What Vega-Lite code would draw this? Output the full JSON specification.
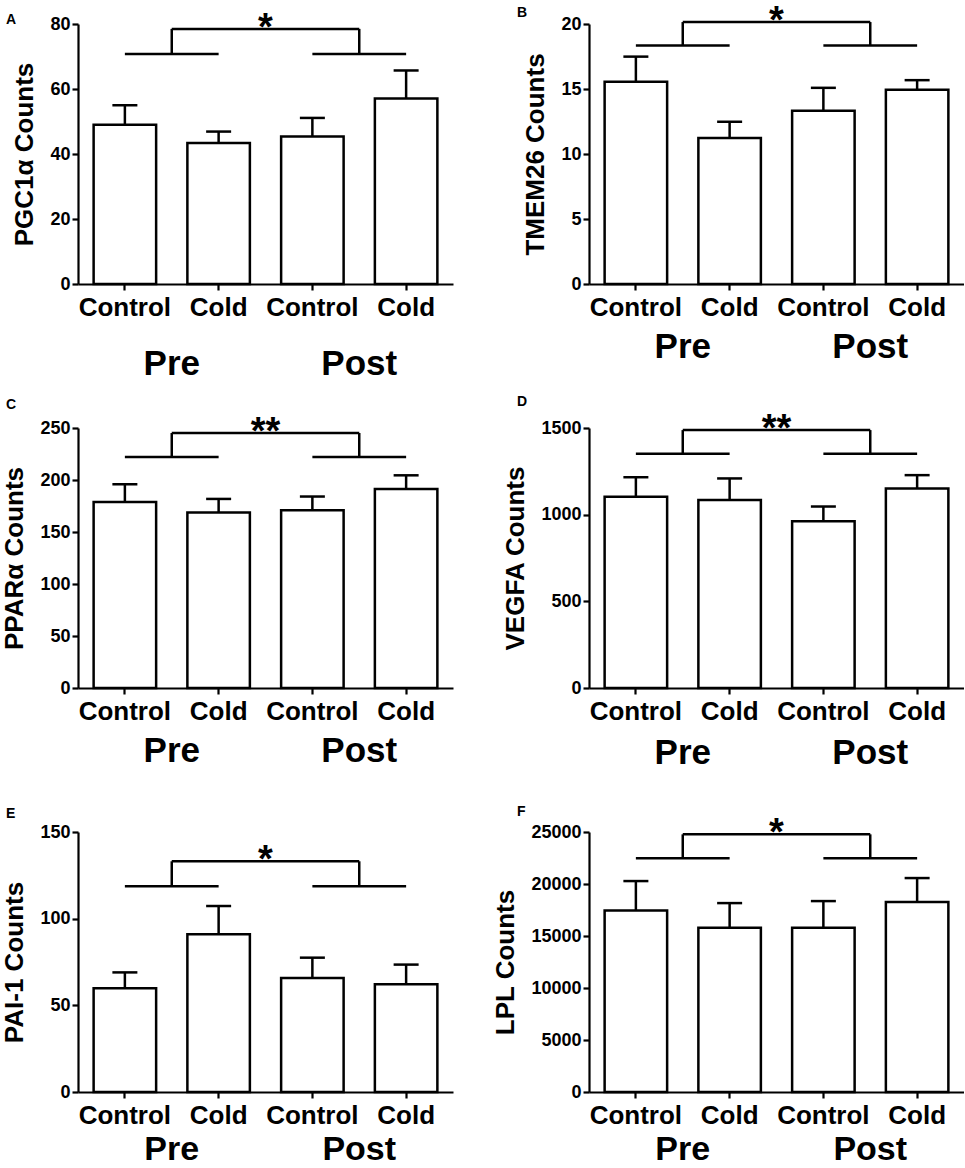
{
  "$schema": "https://vega.github.io/schema/vega-lite/v6.json",
  "background": "white",
  "padding": {"left": 1, "top": 3, "right": 0, "bottom": 0},
  "datasets": {
    "bars": [
      {"panel": "A", "bar": "Control Pre", "mean": 49.0, "upper": 55.0},
      {"panel": "A", "bar": "Cold Pre", "mean": 43.4, "upper": 46.9},
      {"panel": "A", "bar": "Control Post", "mean": 45.4, "upper": 51.1},
      {"panel": "A", "bar": "Cold Post", "mean": 57.1, "upper": 65.7},
      {"panel": "B", "bar": "Control Pre", "mean": 15.55, "upper": 17.49},
      {"panel": "B", "bar": "Cold Pre", "mean": 11.23, "upper": 12.48},
      {"panel": "B", "bar": "Control Post", "mean": 13.32, "upper": 15.09},
      {"panel": "B", "bar": "Cold Post", "mean": 14.94, "upper": 15.68},
      {"panel": "C", "bar": "Control Pre", "mean": 178.9, "upper": 195.9},
      {"panel": "C", "bar": "Cold Pre", "mean": 168.7, "upper": 181.8},
      {"panel": "C", "bar": "Control Post", "mean": 170.9, "upper": 184.1},
      {"panel": "C", "bar": "Cold Post", "mean": 191.4, "upper": 204.5},
      {"panel": "D", "bar": "Control Pre", "mean": 1103, "upper": 1216},
      {"panel": "D", "bar": "Cold Pre", "mean": 1085, "upper": 1209},
      {"panel": "D", "bar": "Control Post", "mean": 962, "upper": 1047},
      {"panel": "D", "bar": "Cold Post", "mean": 1151, "upper": 1228},
      {"panel": "E", "bar": "Control Pre", "mean": 59.8, "upper": 69.0},
      {"panel": "E", "bar": "Cold Pre", "mean": 91.0, "upper": 107.3},
      {"panel": "E", "bar": "Control Post", "mean": 65.8, "upper": 77.5},
      {"panel": "E", "bar": "Cold Post", "mean": 62.1, "upper": 73.5},
      {"panel": "F", "bar": "Control Pre", "mean": 17458, "upper": 20282},
      {"panel": "F", "bar": "Cold Pre", "mean": 15789, "upper": 18164},
      {"panel": "F", "bar": "Control Post", "mean": 15789, "upper": 18357},
      {"panel": "F", "bar": "Cold Post", "mean": 18261, "upper": 20571}
    ],
    "sig": [
      {"panel": "A", "low": 70.8, "high": 78.5, "stars": "*"},
      {"panel": "B", "low": 18.34, "high": 20.15, "stars": "*"},
      {"panel": "C", "low": 222.2, "high": 245.2, "stars": "**"},
      {"panel": "D", "low": 1351, "high": 1488, "stars": "**"},
      {"panel": "E", "low": 118.7, "high": 133.1, "stars": "*"},
      {"panel": "F", "low": 22465, "high": 24775, "stars": "*"}
    ]
  },
  "columns": 2,
  "bounds": "flush",
  "spacing": {"row": 144, "column": 136},
  "concat": [
    {
      "width": 375, "height": 260, "title": {"text": "A", "dy": 19},
      "layer": [
        {
          "data": {"name": "bars"},
          "transform": [{"filter": "datum.panel == 'A'"}],
          "layer": [
            {"mark": "bar", "encoding": {
              "x": {"field": "bar", "type": "nominal", "sort": null, "scale": {"domain": ["Control Pre", "Cold Pre", "Control Post", "Cold Post"], "paddingInner": 0.3333, "paddingOuter": 0.1667}, "axis": {"title": null, "labelExpr": "split(datum.label, ' ')[0]"}},
              "y": {"field": "mean", "type": "quantitative", "scale": {"domain": [0, 80], "nice": false}, "axis": {"title": "PGC1α Counts", "values": [0, 20, 40, 60, 80]}}}},
            {"mark": "rule", "encoding": {"x": {"field": "bar", "type": "nominal"}, "y": {"field": "mean", "type": "quantitative"}, "y2": {"field": "upper"}}},
            {"mark": "rule", "encoding": {"x": {"field": "bar", "type": "nominal", "bandPosition": 0.3}, "x2": {"field": "bar", "bandPosition": 0.7}, "y": {"field": "upper", "type": "quantitative"}}}
          ]
        },
        {
          "data": {"name": "sig"},
          "transform": [{"filter": "datum.panel == 'A'"}],
          "layer": [
            {"mark": "rule", "encoding": {"x": {"datum": "Control Pre", "type": "nominal", "bandPosition": 0.5}, "x2": {"datum": "Cold Pre", "bandPosition": 0.5}, "y": {"field": "low", "type": "quantitative"}}},
            {"mark": "rule", "encoding": {"x": {"datum": "Control Post", "type": "nominal", "bandPosition": 0.5}, "x2": {"datum": "Cold Post", "bandPosition": 0.5}, "y": {"field": "low", "type": "quantitative"}}},
            {"mark": "rule", "encoding": {"x": {"datum": "Control Pre", "type": "nominal", "bandPosition": 1.25}, "x2": {"datum": "Control Post", "bandPosition": 1.25}, "y": {"field": "high", "type": "quantitative"}}},
            {"mark": "rule", "encoding": {"x": {"datum": "Control Pre", "type": "nominal", "bandPosition": 1.25}, "y": {"field": "low", "type": "quantitative"}, "y2": {"field": "high"}}},
            {"mark": "rule", "encoding": {"x": {"datum": "Control Post", "type": "nominal", "bandPosition": 1.25}, "y": {"field": "low", "type": "quantitative"}, "y2": {"field": "high"}}},
            {"mark": {"type": "text", "fontSize": 38, "baseline": "middle"}, "encoding": {"x": {"datum": "Cold Pre", "type": "nominal", "bandPosition": 1.25}, "y": {"field": "high", "type": "quantitative"}, "text": {"field": "stars"}}},
            {"mark": {"type": "text", "fontSize": 35, "baseline": "top", "dy": 63}, "encoding": {"x": {"datum": "Control Pre", "type": "nominal", "bandPosition": 1.25}, "y": {"datum": 0, "type": "quantitative"}, "text": {"value": "Pre"}}},
            {"mark": {"type": "text", "fontSize": 35, "baseline": "top", "dy": 63}, "encoding": {"x": {"datum": "Control Post", "type": "nominal", "bandPosition": 1.25}, "y": {"datum": 0, "type": "quantitative"}, "text": {"value": "Post"}}}
          ]
        }
      ]
    },
    {
      "width": 375, "height": 260, "title": {"text": "B", "dy": 19},
      "layer": [
        {
          "data": {"name": "bars"},
          "transform": [{"filter": "datum.panel == 'B'"}],
          "layer": [
            {"mark": "bar", "encoding": {
              "x": {"field": "bar", "type": "nominal", "sort": null, "scale": {"domain": ["Control Pre", "Cold Pre", "Control Post", "Cold Post"], "paddingInner": 0.3333, "paddingOuter": 0.1667}, "axis": {"title": null, "labelExpr": "split(datum.label, ' ')[0]"}},
              "y": {"field": "mean", "type": "quantitative", "scale": {"domain": [0, 20], "nice": false}, "axis": {"title": "TMEM26 Counts", "values": [0, 5, 10, 15, 20]}}}},
            {"mark": "rule", "encoding": {"x": {"field": "bar", "type": "nominal"}, "y": {"field": "mean", "type": "quantitative"}, "y2": {"field": "upper"}}},
            {"mark": "rule", "encoding": {"x": {"field": "bar", "type": "nominal", "bandPosition": 0.3}, "x2": {"field": "bar", "bandPosition": 0.7}, "y": {"field": "upper", "type": "quantitative"}}}
          ]
        },
        {
          "data": {"name": "sig"},
          "transform": [{"filter": "datum.panel == 'B'"}],
          "layer": [
            {"mark": "rule", "encoding": {"x": {"datum": "Control Pre", "type": "nominal", "bandPosition": 0.5}, "x2": {"datum": "Cold Pre", "bandPosition": 0.5}, "y": {"field": "low", "type": "quantitative"}}},
            {"mark": "rule", "encoding": {"x": {"datum": "Control Post", "type": "nominal", "bandPosition": 0.5}, "x2": {"datum": "Cold Post", "bandPosition": 0.5}, "y": {"field": "low", "type": "quantitative"}}},
            {"mark": "rule", "encoding": {"x": {"datum": "Control Pre", "type": "nominal", "bandPosition": 1.25}, "x2": {"datum": "Control Post", "bandPosition": 1.25}, "y": {"field": "high", "type": "quantitative"}}},
            {"mark": "rule", "encoding": {"x": {"datum": "Control Pre", "type": "nominal", "bandPosition": 1.25}, "y": {"field": "low", "type": "quantitative"}, "y2": {"field": "high"}}},
            {"mark": "rule", "encoding": {"x": {"datum": "Control Post", "type": "nominal", "bandPosition": 1.25}, "y": {"field": "low", "type": "quantitative"}, "y2": {"field": "high"}}},
            {"mark": {"type": "text", "fontSize": 38, "baseline": "middle"}, "encoding": {"x": {"datum": "Cold Pre", "type": "nominal", "bandPosition": 1.25}, "y": {"field": "high", "type": "quantitative"}, "text": {"field": "stars"}}},
            {"mark": {"type": "text", "fontSize": 35, "baseline": "top", "dy": 46}, "encoding": {"x": {"datum": "Control Pre", "type": "nominal", "bandPosition": 1.25}, "y": {"datum": 0, "type": "quantitative"}, "text": {"value": "Pre"}}},
            {"mark": {"type": "text", "fontSize": 35, "baseline": "top", "dy": 46}, "encoding": {"x": {"datum": "Control Post", "type": "nominal", "bandPosition": 1.25}, "y": {"datum": 0, "type": "quantitative"}, "text": {"value": "Post"}}}
          ]
        }
      ]
    },
    {
      "width": 375, "height": 260, "title": "C",
      "layer": [
        {
          "data": {"name": "bars"},
          "transform": [{"filter": "datum.panel == 'C'"}],
          "layer": [
            {"mark": "bar", "encoding": {
              "x": {"field": "bar", "type": "nominal", "sort": null, "scale": {"domain": ["Control Pre", "Cold Pre", "Control Post", "Cold Post"], "paddingInner": 0.3333, "paddingOuter": 0.1667}, "axis": {"title": null, "labelExpr": "split(datum.label, ' ')[0]"}},
              "y": {"field": "mean", "type": "quantitative", "scale": {"domain": [0, 250], "nice": false}, "axis": {"title": "PPARα Counts", "values": [0, 50, 100, 150, 200, 250]}}}},
            {"mark": "rule", "encoding": {"x": {"field": "bar", "type": "nominal"}, "y": {"field": "mean", "type": "quantitative"}, "y2": {"field": "upper"}}},
            {"mark": "rule", "encoding": {"x": {"field": "bar", "type": "nominal", "bandPosition": 0.3}, "x2": {"field": "bar", "bandPosition": 0.7}, "y": {"field": "upper", "type": "quantitative"}}}
          ]
        },
        {
          "data": {"name": "sig"},
          "transform": [{"filter": "datum.panel == 'C'"}],
          "layer": [
            {"mark": "rule", "encoding": {"x": {"datum": "Control Pre", "type": "nominal", "bandPosition": 0.5}, "x2": {"datum": "Cold Pre", "bandPosition": 0.5}, "y": {"field": "low", "type": "quantitative"}}},
            {"mark": "rule", "encoding": {"x": {"datum": "Control Post", "type": "nominal", "bandPosition": 0.5}, "x2": {"datum": "Cold Post", "bandPosition": 0.5}, "y": {"field": "low", "type": "quantitative"}}},
            {"mark": "rule", "encoding": {"x": {"datum": "Control Pre", "type": "nominal", "bandPosition": 1.25}, "x2": {"datum": "Control Post", "bandPosition": 1.25}, "y": {"field": "high", "type": "quantitative"}}},
            {"mark": "rule", "encoding": {"x": {"datum": "Control Pre", "type": "nominal", "bandPosition": 1.25}, "y": {"field": "low", "type": "quantitative"}, "y2": {"field": "high"}}},
            {"mark": "rule", "encoding": {"x": {"datum": "Control Post", "type": "nominal", "bandPosition": 1.25}, "y": {"field": "low", "type": "quantitative"}, "y2": {"field": "high"}}},
            {"mark": {"type": "text", "fontSize": 38, "baseline": "middle"}, "encoding": {"x": {"datum": "Cold Pre", "type": "nominal", "bandPosition": 1.25}, "y": {"field": "high", "type": "quantitative"}, "text": {"field": "stars"}}},
            {"mark": {"type": "text", "fontSize": 35, "baseline": "top", "dy": 46}, "encoding": {"x": {"datum": "Control Pre", "type": "nominal", "bandPosition": 1.25}, "y": {"datum": 0, "type": "quantitative"}, "text": {"value": "Pre"}}},
            {"mark": {"type": "text", "fontSize": 35, "baseline": "top", "dy": 46}, "encoding": {"x": {"datum": "Control Post", "type": "nominal", "bandPosition": 1.25}, "y": {"datum": 0, "type": "quantitative"}, "text": {"value": "Post"}}}
          ]
        }
      ]
    },
    {
      "width": 375, "height": 260, "title": "D",
      "layer": [
        {
          "data": {"name": "bars"},
          "transform": [{"filter": "datum.panel == 'D'"}],
          "layer": [
            {"mark": "bar", "encoding": {
              "x": {"field": "bar", "type": "nominal", "sort": null, "scale": {"domain": ["Control Pre", "Cold Pre", "Control Post", "Cold Post"], "paddingInner": 0.3333, "paddingOuter": 0.1667}, "axis": {"title": null, "labelExpr": "split(datum.label, ' ')[0]"}},
              "y": {"field": "mean", "type": "quantitative", "scale": {"domain": [0, 1500], "nice": false}, "axis": {"title": "VEGFA  Counts", "format": "d", "values": [0, 500, 1000, 1500]}}}},
            {"mark": "rule", "encoding": {"x": {"field": "bar", "type": "nominal"}, "y": {"field": "mean", "type": "quantitative"}, "y2": {"field": "upper"}}},
            {"mark": "rule", "encoding": {"x": {"field": "bar", "type": "nominal", "bandPosition": 0.3}, "x2": {"field": "bar", "bandPosition": 0.7}, "y": {"field": "upper", "type": "quantitative"}}}
          ]
        },
        {
          "data": {"name": "sig"},
          "transform": [{"filter": "datum.panel == 'D'"}],
          "layer": [
            {"mark": "rule", "encoding": {"x": {"datum": "Control Pre", "type": "nominal", "bandPosition": 0.5}, "x2": {"datum": "Cold Pre", "bandPosition": 0.5}, "y": {"field": "low", "type": "quantitative"}}},
            {"mark": "rule", "encoding": {"x": {"datum": "Control Post", "type": "nominal", "bandPosition": 0.5}, "x2": {"datum": "Cold Post", "bandPosition": 0.5}, "y": {"field": "low", "type": "quantitative"}}},
            {"mark": "rule", "encoding": {"x": {"datum": "Control Pre", "type": "nominal", "bandPosition": 1.25}, "x2": {"datum": "Control Post", "bandPosition": 1.25}, "y": {"field": "high", "type": "quantitative"}}},
            {"mark": "rule", "encoding": {"x": {"datum": "Control Pre", "type": "nominal", "bandPosition": 1.25}, "y": {"field": "low", "type": "quantitative"}, "y2": {"field": "high"}}},
            {"mark": "rule", "encoding": {"x": {"datum": "Control Post", "type": "nominal", "bandPosition": 1.25}, "y": {"field": "low", "type": "quantitative"}, "y2": {"field": "high"}}},
            {"mark": {"type": "text", "fontSize": 38, "baseline": "middle"}, "encoding": {"x": {"datum": "Cold Pre", "type": "nominal", "bandPosition": 1.25}, "y": {"field": "high", "type": "quantitative"}, "text": {"field": "stars"}}},
            {"mark": {"type": "text", "fontSize": 35, "baseline": "top", "dy": 48}, "encoding": {"x": {"datum": "Control Pre", "type": "nominal", "bandPosition": 1.25}, "y": {"datum": 0, "type": "quantitative"}, "text": {"value": "Pre"}}},
            {"mark": {"type": "text", "fontSize": 35, "baseline": "top", "dy": 48}, "encoding": {"x": {"datum": "Control Post", "type": "nominal", "bandPosition": 1.25}, "y": {"datum": 0, "type": "quantitative"}, "text": {"value": "Post"}}}
          ]
        }
      ]
    },
    {
      "width": 375, "height": 260, "title": "E",
      "layer": [
        {
          "data": {"name": "bars"},
          "transform": [{"filter": "datum.panel == 'E'"}],
          "layer": [
            {"mark": "bar", "encoding": {
              "x": {"field": "bar", "type": "nominal", "sort": null, "scale": {"domain": ["Control Pre", "Cold Pre", "Control Post", "Cold Post"], "paddingInner": 0.3333, "paddingOuter": 0.1667}, "axis": {"title": null, "labelExpr": "split(datum.label, ' ')[0]"}},
              "y": {"field": "mean", "type": "quantitative", "scale": {"domain": [0, 150], "nice": false}, "axis": {"title": "PAI-1 Counts", "values": [0, 50, 100, 150]}}}},
            {"mark": "rule", "encoding": {"x": {"field": "bar", "type": "nominal"}, "y": {"field": "mean", "type": "quantitative"}, "y2": {"field": "upper"}}},
            {"mark": "rule", "encoding": {"x": {"field": "bar", "type": "nominal", "bandPosition": 0.3}, "x2": {"field": "bar", "bandPosition": 0.7}, "y": {"field": "upper", "type": "quantitative"}}}
          ]
        },
        {
          "data": {"name": "sig"},
          "transform": [{"filter": "datum.panel == 'E'"}],
          "layer": [
            {"mark": "rule", "encoding": {"x": {"datum": "Control Pre", "type": "nominal", "bandPosition": 0.5}, "x2": {"datum": "Cold Pre", "bandPosition": 0.5}, "y": {"field": "low", "type": "quantitative"}}},
            {"mark": "rule", "encoding": {"x": {"datum": "Control Post", "type": "nominal", "bandPosition": 0.5}, "x2": {"datum": "Cold Post", "bandPosition": 0.5}, "y": {"field": "low", "type": "quantitative"}}},
            {"mark": "rule", "encoding": {"x": {"datum": "Control Pre", "type": "nominal", "bandPosition": 1.25}, "x2": {"datum": "Control Post", "bandPosition": 1.25}, "y": {"field": "high", "type": "quantitative"}}},
            {"mark": "rule", "encoding": {"x": {"datum": "Control Pre", "type": "nominal", "bandPosition": 1.25}, "y": {"field": "low", "type": "quantitative"}, "y2": {"field": "high"}}},
            {"mark": "rule", "encoding": {"x": {"datum": "Control Post", "type": "nominal", "bandPosition": 1.25}, "y": {"field": "low", "type": "quantitative"}, "y2": {"field": "high"}}},
            {"mark": {"type": "text", "fontSize": 38, "baseline": "middle"}, "encoding": {"x": {"datum": "Cold Pre", "type": "nominal", "bandPosition": 1.25}, "y": {"field": "high", "type": "quantitative"}, "text": {"field": "stars"}}},
            {"mark": {"type": "text", "fontSize": 34, "baseline": "top", "dy": 41}, "encoding": {"x": {"datum": "Control Pre", "type": "nominal", "bandPosition": 1.25}, "y": {"datum": 0, "type": "quantitative"}, "text": {"value": "Pre"}}},
            {"mark": {"type": "text", "fontSize": 34, "baseline": "top", "dy": 41}, "encoding": {"x": {"datum": "Control Post", "type": "nominal", "bandPosition": 1.25}, "y": {"datum": 0, "type": "quantitative"}, "text": {"value": "Post"}}}
          ]
        }
      ]
    },
    {
      "width": 375, "height": 260, "title": {"text": "F", "dy": 6},
      "layer": [
        {
          "data": {"name": "bars"},
          "transform": [{"filter": "datum.panel == 'F'"}],
          "layer": [
            {"mark": "bar", "encoding": {
              "x": {"field": "bar", "type": "nominal", "sort": null, "scale": {"domain": ["Control Pre", "Cold Pre", "Control Post", "Cold Post"], "paddingInner": 0.3333, "paddingOuter": 0.1667}, "axis": {"title": null, "labelExpr": "split(datum.label, ' ')[0]"}},
              "y": {"field": "mean", "type": "quantitative", "scale": {"domain": [0, 25000], "nice": false}, "axis": {"title": "LPL Counts", "format": "d", "values": [0, 5000, 10000, 15000, 20000, 25000]}}}},
            {"mark": "rule", "encoding": {"x": {"field": "bar", "type": "nominal"}, "y": {"field": "mean", "type": "quantitative"}, "y2": {"field": "upper"}}},
            {"mark": "rule", "encoding": {"x": {"field": "bar", "type": "nominal", "bandPosition": 0.3}, "x2": {"field": "bar", "bandPosition": 0.7}, "y": {"field": "upper", "type": "quantitative"}}}
          ]
        },
        {
          "data": {"name": "sig"},
          "transform": [{"filter": "datum.panel == 'F'"}],
          "layer": [
            {"mark": "rule", "encoding": {"x": {"datum": "Control Pre", "type": "nominal", "bandPosition": 0.5}, "x2": {"datum": "Cold Pre", "bandPosition": 0.5}, "y": {"field": "low", "type": "quantitative"}}},
            {"mark": "rule", "encoding": {"x": {"datum": "Control Post", "type": "nominal", "bandPosition": 0.5}, "x2": {"datum": "Cold Post", "bandPosition": 0.5}, "y": {"field": "low", "type": "quantitative"}}},
            {"mark": "rule", "encoding": {"x": {"datum": "Control Pre", "type": "nominal", "bandPosition": 1.25}, "x2": {"datum": "Control Post", "bandPosition": 1.25}, "y": {"field": "high", "type": "quantitative"}}},
            {"mark": "rule", "encoding": {"x": {"datum": "Control Pre", "type": "nominal", "bandPosition": 1.25}, "y": {"field": "low", "type": "quantitative"}, "y2": {"field": "high"}}},
            {"mark": "rule", "encoding": {"x": {"datum": "Control Post", "type": "nominal", "bandPosition": 1.25}, "y": {"field": "low", "type": "quantitative"}, "y2": {"field": "high"}}},
            {"mark": {"type": "text", "fontSize": 38, "baseline": "middle"}, "encoding": {"x": {"datum": "Cold Pre", "type": "nominal", "bandPosition": 1.25}, "y": {"field": "high", "type": "quantitative"}, "text": {"field": "stars"}}},
            {"mark": {"type": "text", "fontSize": 34, "baseline": "top", "dy": 41}, "encoding": {"x": {"datum": "Control Pre", "type": "nominal", "bandPosition": 1.25}, "y": {"datum": 0, "type": "quantitative"}, "text": {"value": "Pre"}}},
            {"mark": {"type": "text", "fontSize": 34, "baseline": "top", "dy": 41}, "encoding": {"x": {"datum": "Control Post", "type": "nominal", "bandPosition": 1.25}, "y": {"datum": 0, "type": "quantitative"}, "text": {"value": "Post"}}}
          ]
        }
      ]
    }
  ],
  "config": {
    "font": "Liberation Sans",
    "view": {"stroke": null},
    "title": {"anchor": "start", "frame": "group", "dx": -72, "fontSize": 14, "fontWeight": "bold", "color": "black", "font": "Liberation Sans", "offset": 2},
    "axis": {
      "grid": false, "domainColor": "black", "domainWidth": 2.2, "tickColor": "black", "tickWidth": 2.2, "tickSize": 6,
      "labelColor": "black", "labelFont": "Liberation Sans", "labelFontWeight": "bold",
      "titleColor": "black", "titleFont": "Liberation Sans", "titleFontWeight": "bold"
    },
    "axisX": {"labelFontSize": 26, "labelPadding": 4, "labelAngle": 0, "labelOverlap": false},
    "axisY": {"labelFontSize": 18, "labelPadding": 2, "titleFontSize": 26, "titlePadding": 12},
    "bar": {"fill": "white", "stroke": "black", "strokeWidth": 2.5},
    "rule": {"color": "black", "strokeWidth": 2.5},
    "text": {"font": "Liberation Sans", "fontWeight": "bold", "color": "black"}
  }
}
